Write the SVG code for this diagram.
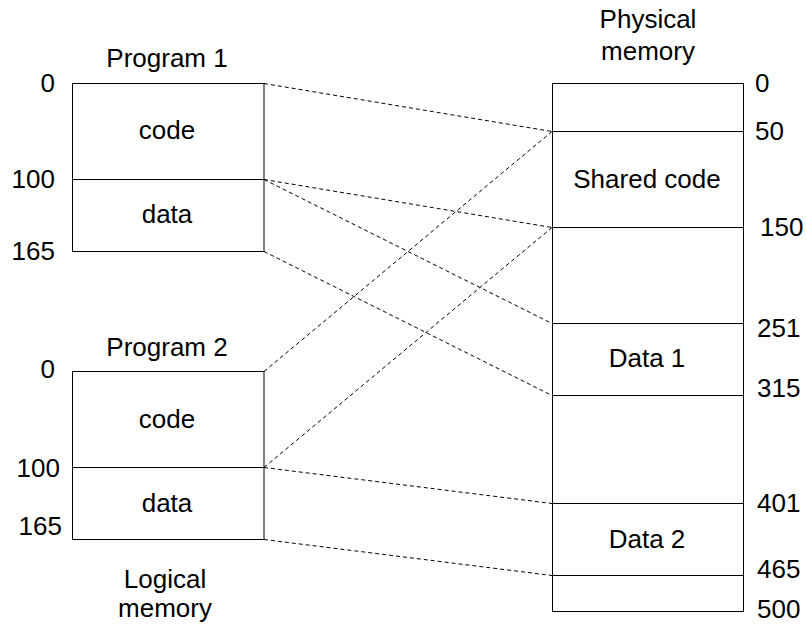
<svg xmlns="http://www.w3.org/2000/svg" width="806" height="630" viewBox="0 0 806 630">
<style>
text{font-family:"Liberation Sans",Arial,sans-serif;font-size:26px;fill:#000}
.c{text-anchor:middle}
.r{text-anchor:end}
.box{fill:#fff;stroke:#000;stroke-width:1}
.div{stroke:#000;stroke-width:1}
.dash{stroke:#000;stroke-width:1;stroke-dasharray:4,3;fill:none}
</style>
<rect width="806" height="630" fill="#fff"/>
<g id="connectors">
<line class="dash" x1="264" y1="83.5" x2="552" y2="131.5"/>
<line class="dash" x1="264" y1="179.5" x2="552" y2="227.5"/>
<line class="dash" x1="264" y1="179.5" x2="552" y2="323.5"/>
<line class="dash" x1="264" y1="251.5" x2="552" y2="395.5"/>
<line class="dash" x1="264" y1="371.5" x2="552" y2="131.5"/>
<line class="dash" x1="264" y1="467.5" x2="552" y2="227.5"/>
<line class="dash" x1="264" y1="467.5" x2="552" y2="503.5"/>
<line class="dash" x1="264" y1="539.5" x2="552" y2="575.5"/>
</g>
<g id="program1">
<text class="c" x="167" y="67">Program 1</text>
<rect class="box" x="72.5" y="83.5" width="191.5" height="168"/>
<line class="div" x1="72.5" y1="179.5" x2="264" y2="179.5"/>
<text class="c" x="167" y="139">code</text>
<text class="c" x="167" y="223">data</text>
<text class="r" x="55" y="92">0</text>
<text class="r" x="55" y="188">100</text>
<text class="r" x="55" y="260">165</text>
</g>
<g id="program2">
<text class="c" x="167" y="356">Program 2</text>
<rect class="box" x="72.5" y="371.5" width="191.5" height="168"/>
<line class="div" x1="72.5" y1="467.5" x2="264" y2="467.5"/>
<text class="c" x="167" y="428">code</text>
<text class="c" x="167" y="512">data</text>
<text class="r" x="55" y="378">0</text>
<text class="r" x="60" y="477">100</text>
<text class="r" x="62" y="535">165</text>
<text class="c" x="165" y="588">Logical</text>
<text class="c" x="165" y="617">memory</text>
</g>
<g id="physical">
<text class="c" x="648" y="28">Physical</text>
<text class="c" x="648" y="60">memory</text>
<rect class="box" x="552.5" y="83.5" width="191" height="528"/>
<line class="div" x1="552.5" y1="131.5" x2="743.5" y2="131.5"/>
<line class="div" x1="552.5" y1="227.5" x2="743.5" y2="227.5"/>
<line class="div" x1="552.5" y1="323.5" x2="743.5" y2="323.5"/>
<line class="div" x1="552.5" y1="395.5" x2="743.5" y2="395.5"/>
<line class="div" x1="552.5" y1="503.5" x2="743.5" y2="503.5"/>
<line class="div" x1="552.5" y1="575.5" x2="743.5" y2="575.5"/>
<text class="c" x="647" y="188">Shared code</text>
<text class="c" x="647" y="367">Data 1</text>
<text class="c" x="647" y="548">Data 2</text>
<text x="755" y="92">0</text>
<text x="755" y="140">50</text>
<text x="760" y="236">150</text>
<text x="757" y="337">251</text>
<text x="757" y="397">315</text>
<text x="757" y="512">401</text>
<text x="757" y="578">465</text>
<text x="757" y="618">500</text>
</g>
</svg>
